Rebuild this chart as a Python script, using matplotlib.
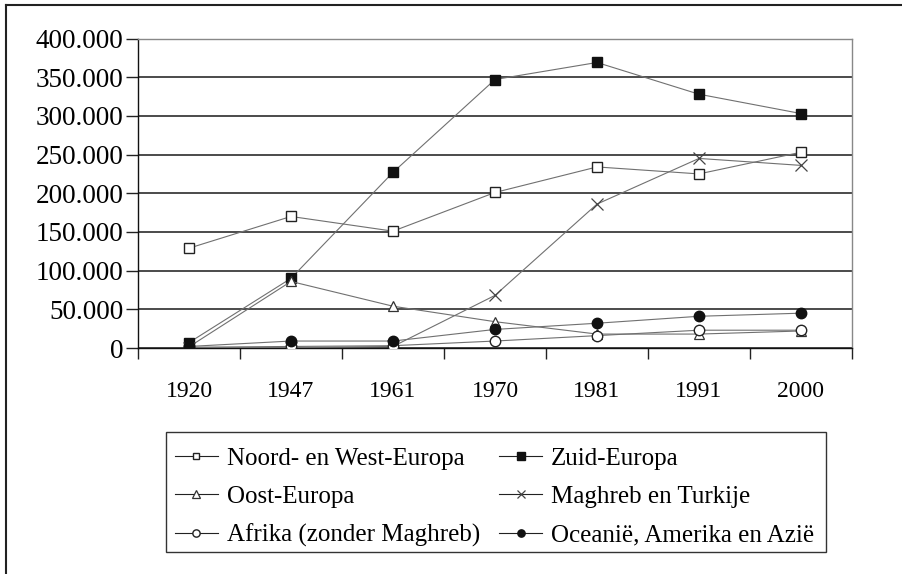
import matplotlib
matplotlib.use('Agg')
from matplotlib import pyplot as plt
from matplotlib.lines import Line2D
from matplotlib.patches import Rectangle
import numpy as np

plt.rcParams['font.family'] = ['Liberation Serif', 'DejaVu Serif']

years = ['1920', '1947', '1961', '1970', '1981', '1991', '2000']
noord_west = [129000, 170000, 151000, 201000, 234000, 225000, 253000]
zuid = [7000, 90000, 227000, 347000, 369000, 328000, 303000]
oost = [1500, 86000, 54000, 34000, 18000, 18000, 22000]
maghreb = [500, 500, 2000, 68000, 186000, 245000, 236000]
afrika = [1000, 2000, 3000, 9000, 16000, 23000, 23000]
oceanie = [2000, 9000, 9000, 24000, 32000, 41000, 45000]

labels = ['Noord- en West-Europa', 'Zuid-Europa', 'Oost-Europa',
          'Maghreb en Turkije', 'Afrika (zonder Maghreb)',
          'Oceanië, Amerika en Azië']

W, H = 903, 574
fig = plt.figure(figsize=(W/100, H/100), dpi=100)
ax = fig.add_axes([138/W, 1-348/H, (852-138)/W, (348-38.5)/H])

x = np.arange(len(years))
lc = '#707070'
lw = 0.8
h = []
h += ax.plot(x, noord_west, color=lc, lw=lw, marker='s', ms=6.5, mfc='white', mec='#222222', mew=1.0, label=labels[0], zorder=3)
h += ax.plot(x, zuid, color=lc, lw=lw, marker='s', ms=7.5, mfc='#111111', mec='#111111', label=labels[1], zorder=3)
h += ax.plot(x, oost, color=lc, lw=lw, marker='^', ms=7.5, mfc='white', mec='#333333', mew=0.9, label=labels[2], zorder=3)
h += ax.plot(x, maghreb, color=lc, lw=lw, marker='x', ms=8, mec='#444444', mew=0.9, label=labels[3], zorder=3)
h += ax.plot(x, afrika, color=lc, lw=lw, marker='o', ms=7.5, mfc='white', mec='#222222', mew=1.0, label=labels[4], zorder=3)
h += ax.plot(x, oceanie, color=lc, lw=lw, marker='o', ms=7.5, mfc='#111111', mec='#111111', label=labels[5], zorder=3)

ax.set_xlim(-0.5, len(years) - 0.5)
ax.set_ylim(0, 400000)
ax.set_yticks(np.arange(0, 400001, 50000))
ax.set_yticklabels(['0'] + ['{:,}'.format(v).replace(',', '.') for v in range(50000, 400001, 50000)])
ax.yaxis.grid(True, color='#1a1a1a', lw=1.1)
ax.set_axisbelow(True)

ax.set_xticks(np.arange(-0.5, len(years), 1.0))
ax.set_xticklabels([])
ax.set_xticks(x, minor=True)
ax.set_xticklabels(years, minor=True)
ax.tick_params(axis='x', which='major', direction='out', length=8, width=1, color='#222222')
ax.tick_params(axis='x', which='minor', length=0, pad=24, labelsize=17)
ax.tick_params(axis='y', direction='out', length=9, width=1, color='#222222', pad=1.5, labelsize=19.5)

for s in ['top', 'right']:
    ax.spines[s].set_color('#888888')
    ax.spines[s].set_linewidth(1.0)
for s in ['left', 'bottom']:
    ax.spines[s].set_color('#111111')
    ax.spines[s].set_linewidth(1.0)

# row-wise legend order: matplotlib fills columns first
order = [0, 2, 4, 1, 3, 5]
leg = fig.legend([h[i] for i in order], [labels[i] for i in order],
                 loc='upper left', bbox_to_anchor=(165/W, 1-437/H), bbox_transform=fig.transFigure,
                 ncol=2, frameon=False, fontsize=18, handlelength=1.72,
                 markerscale=0.7, columnspacing=0.76, labelspacing=0.64, handletextpad=0.36,
                 borderpad=0.4, borderaxespad=0)
for ln in leg.get_lines():
    ln.set_color('#222222')
# legend box
fig.add_artist(Rectangle((166/W, 1-552/H), (826-166)/W, (552-432)/H, transform=fig.transFigure,
                         fill=False, edgecolor='#333333', lw=1.0))

# outer frame (only top and left edges visible)
fig.add_artist(Line2D([6/W, 6/W], [0, 1-5/H], color='#222222', lw=1.5, transform=fig.transFigure))
fig.add_artist(Line2D([6/W, 1], [1-5/H, 1-5/H], color='#222222', lw=1.5, transform=fig.transFigure))

fig.savefig('out.png', dpi=100)
